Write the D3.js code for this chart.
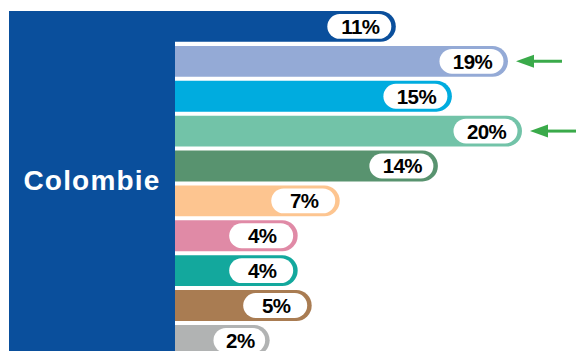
<!DOCTYPE html>
<html>
<head>
<meta charset="utf-8">
<script src="https://cdn.jsdelivr.net/npm/d3@7"></script>
<style>
  body { margin: 0; background: #fff; }
  svg { display: block; }
</style>
</head>
<body>
<svg width="584" height="351"></svg>
<script>
var country = "Colombie";
var keys = ["c1", "c2", "c3", "c4", "c5", "c6", "c7", "c8", "c9", "c10"];
var values = [11, 19, 15, 20, 14, 7, 4, 4, 5, 2];
var colors = ["#0a4f9c", "#94aad6", "#00acdf", "#72c3a8", "#58936f",
              "#fdc590", "#e08aa6", "#13a89d", "#a97c52", "#b1b3b3"];
var highlighted = ["c2", "c4"];

var svg = d3.select("svg"),
    panel = {left: 9, right: 175, top: 11};

var data = keys.map(function(k, i) { return {key: k, value: values[i], color: colors[i]}; });

var x = d3.scaleLinear().domain([0, 20]).range([241.6, 522]);

var y = d3.scaleBand()
    .domain(keys)
    .range([8.9, 357.9])
    .paddingInner(0.115)
    .paddingOuter(0.06);

var bh = y.bandwidth();

// bars (left round end tucked behind the panel)
var bar = svg.append("g").selectAll("g")
    .data(data)
  .enter().append("g");

bar.append("rect")
    .attr("x", panel.right - 30)
    .attr("y", function(d) { return y(d.key); })
    .attr("width", function(d) { return x(d.value) - (panel.right - 30); })
    .attr("height", bh)
    .attr("rx", bh / 2)
    .attr("fill", function(d) { return d.color; });

// white label pills
function pillW(d) { return Math.min(64, x(d.value) - panel.right - 43); }

bar.append("rect")
    .attr("x", function(d) { return x(d.value) - 4.5 - pillW(d); })
    .attr("y", function(d) { return y(d.key) + 3; })
    .attr("width", pillW)
    .attr("height", bh - 6)
    .attr("rx", (bh - 6) / 2)
    .attr("fill", "#fff");

bar.append("text")
    .attr("x", function(d) { return x(d.value) - 4.5 - pillW(d) / 2 + 1; })
    .attr("y", function(d) { return y(d.key) + bh / 2 + 7.5; })
    .attr("text-anchor", "middle")
    .style("font-family", "'Liberation Sans', Arial, sans-serif")
    .style("font-weight", "bold")
    .style("font-size", "20.5px")
    .style("letter-spacing", "-0.6px")
    .attr("fill", "#000")
    .text(function(d) { return d.value + "%"; });

// country panel
svg.append("rect")
    .attr("x", panel.left)
    .attr("y", panel.top)
    .attr("width", panel.right - panel.left)
    .attr("height", 351 - panel.top)
    .attr("fill", "#0a4f9c");

svg.append("text")
    .attr("x", (panel.left + panel.right) / 2)
    .attr("y", 190)
    .attr("text-anchor", "middle")
    .style("font-family", "'Liberation Sans', Arial, sans-serif")
    .style("font-weight", "bold")
    .style("font-size", "28px")
    .style("letter-spacing", "1.2px")
    .attr("fill", "#fff")
    .text(country);

// green arrows on the highlighted bars
var arrows = svg.append("g").selectAll("g")
    .data(data.filter(function(d) { return highlighted.indexOf(d.key) >= 0; }))
  .enter().append("g")
    .attr("transform", function(d) { return "translate(" + (x(d.value) + 8) + "," + (y(d.key) + bh / 2) + ")"; });

arrows.append("line")
    .attr("x1", 14).attr("x2", 46)
    .attr("stroke", "#3aaa4a")
    .attr("stroke-width", 3);

arrows.append("path")
    .attr("d", "M0,0L18,-6.5L18,6.5Z")
    .attr("fill", "#3aaa4a");
</script>
</body>
</html>
